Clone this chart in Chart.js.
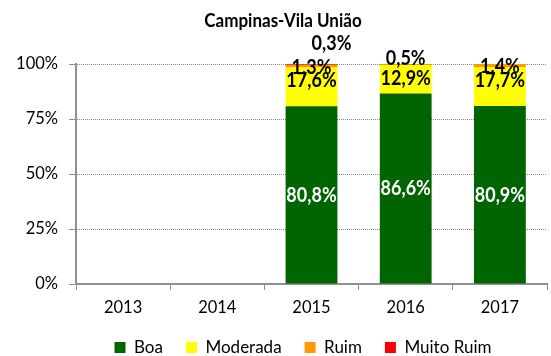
<!DOCTYPE html>
<html lang="pt">
<head>
<meta charset="UTF-8">
<title>Campinas-Vila União</title>
<script src="https://cdn.jsdelivr.net/npm/chart.js"></script>
<style>
  html, body { margin: 0; padding: 0; background: #fff; }
  #wrap { width: 551px; height: 356px; }
</style>
</head>
<body>
<div id="wrap"><canvas id="chart"></canvas></div>
<script>
const years = ['2013', '2014', '2015', '2016', '2017'];
const boa = [null, null, 80.8, 86.6, 80.9];
const moderada = [null, null, 17.6, 12.9, 17.7];
const ruim = [null, null, 1.3, 0.5, 1.4];
const muitoRuim = [null, null, 0.3, 0, 0];
const yTicks = [0, 25, 50, 75, 100];
const chartTitle = 'Campinas-Vila União';

const FONT = "Lato, 'DejaVu Sans Condensed', sans-serif";

function fmt(v) {
  return v.toFixed(1).replace('.', ',') + '%';
}

// text stretched a little upward to get a narrow, tall face
function tallText(ctx, text, x, y, stretch) {
  ctx.save();
  ctx.translate(x, y);
  ctx.scale(1, stretch);
  ctx.fillText(text, 0, 0);
  ctx.restore();
}

// title sits a bit left of the legend, so it is drawn by hand;
// the legend box is nudged right after layout
const titleText = {
  id: 'titleText',
  afterLayout(chart) {
    chart.legend.left += 43;
  },
  afterDraw(chart) {
    const ctx = chart.ctx;
    ctx.save();
    ctx.font = 'bold 17px ' + FONT;
    ctx.textAlign = 'center';
    ctx.textBaseline = 'middle';
    ctx.fillStyle = '#000';
    tallText(ctx, chartTitle, 283, 21, 1.15);
    ctx.restore();
  }
};

// percentage labels on each stacked segment
const barLabels = {
  id: 'barLabels',
  afterDatasetsDraw(chart) {
    const ctx = chart.ctx;
    ctx.save();
    ctx.font = 'bold 18px ' + FONT;
    ctx.textAlign = 'center';
    ctx.textBaseline = 'middle';
    chart.data.datasets.forEach((ds, i) => {
      const meta = chart.getDatasetMeta(i);
      meta.data.forEach((bar, j) => {
        const v = ds.data[j];
        if (!v) return;
        const top = bar.y;
        let x = bar.x, y;
        if (i === 0) y = (bar.y + bar.base) / 2;
        else if (i === 1) y = top + 13;
        else if (i === 2) y = v >= 1 ? top + 2 : top - 6;
        else { y = top - 21; x += 20; }
        ctx.fillStyle = i === 0 ? '#ffffff' : '#000000';
        tallText(ctx, fmt(v), x, y, 1.2);
      });
    });
    ctx.restore();
  }
};

new Chart(document.getElementById('chart'), {
  type: 'bar',
  data: {
    labels: years,
    datasets: [
      { label: 'Boa', data: boa, backgroundColor: '#006400' },
      { label: 'Moderada', data: moderada, backgroundColor: '#ffff00' },
      { label: 'Ruim', data: ruim, backgroundColor: '#ff9900' },
      { label: 'Muito Ruim', data: muitoRuim, backgroundColor: '#ff0000' }
    ]
  },
  options: {
    responsive: true,
    maintainAspectRatio: false,
    animation: false,
    layout: { padding: { left: 16, right: 4, top: 64, bottom: -10 } },
    datasets: {
      bar: { categoryPercentage: 1, barPercentage: 0.55 }
    },
    plugins: {
      title: { display: false },
      legend: {
        position: 'bottom',
        labels: {
          color: '#000',
          font: { family: FONT, size: 17 },
          boxWidth: 11,
          boxHeight: 11,
          padding: 23
        }
      },
      tooltip: { enabled: false }
    },
    scales: {
      x: {
        stacked: true,
        afterFit(scale) { scale.height = 32; },
        grid: {
          offset: true,
          drawOnChartArea: false,
          drawTicks: true,
          tickLength: 6,
          tickColor: '#909090'
        },
        border: { color: '#909090', width: 2 },
        ticks: {
          color: '#000',
          font: { family: FONT, size: 16.5 },
          padding: 8
        }
      },
      y: {
        stacked: true,
        min: 0,
        max: 100,
        afterFit(scale) { scale.width = 60; },
        afterBuildTicks(scale) { scale.ticks = yTicks.map(v => ({ value: v })); },
        grid: {
          color: '#8a8a8a',
          tickLength: 7,
          tickColor: '#909090',
          tickBorderDash: []
        },
        border: { color: '#909090', width: 2, dash: [1, 1] },
        ticks: {
          color: '#000',
          font: { family: FONT, size: 16.5 },
          padding: 11,
          callback: v => v + '%'
        }
      }
    }
  },
  plugins: [barLabels, titleText]
});
</script>
</body>
</html>
